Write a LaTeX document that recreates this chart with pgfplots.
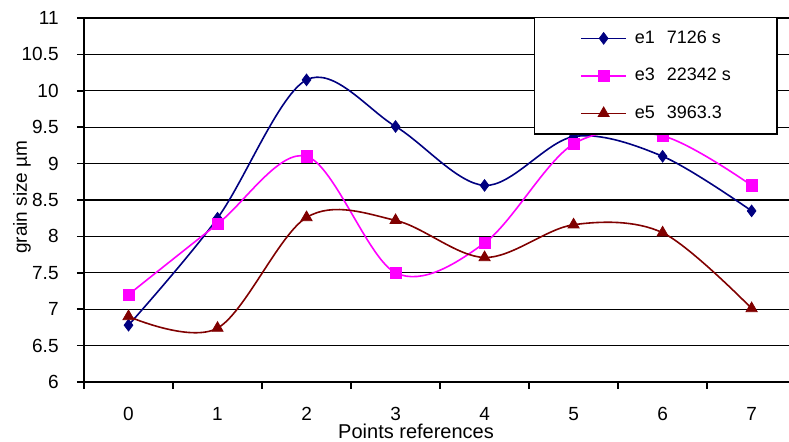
\documentclass[border=0pt]{standalone}
\usepackage{fontspec}
\setmainfont{Liberation Sans}
\usepackage{pgfplots}
\pgfplotsset{compat=1.18}
\definecolor{eone}{RGB}{0,0,128}
\definecolor{ethree}{RGB}{255,0,255}
\definecolor{efive}{RGB}{128,0,0}
\begin{document}
\begin{tikzpicture}
\useasboundingbox (-42pt,-30pt) rectangle (352.5pt,191pt);
\begin{axis}[
  at={(0,0)}, anchor=south west,
  scale only axis, width=352.5pt, height=182pt,
  xmin=-0.5, xmax=7.42, ymin=6, ymax=11,
  axis x line*=bottom, axis y line*=left,
  axis line style={-, line width=1pt, black},
  xtick={-0.5,0.5,...,7.5}, xticklabels={},
  extra x ticks={0,1,2,3,4,5,6,7},
  extra x tick labels={0,1,2,3,4,5,6,7},
  extra x tick style={major tick length=0pt},
  ytick={6,6.5,...,11},
  yticklabels={6,6.5,7,7.5,8,8.5,9,9.5,10,10.5,11},
  tick align=outside, major tick length=3.5pt,
  tick style={black, line width=0.8pt},
  ymajorgrids, grid style={black, line width=0.6pt},
  /pgf/number format/assume math mode=true,
  tick label style={font=\fontsize{9.5}{11}\selectfont},
  xticklabel style={anchor=base, inner sep=0pt, yshift=-19.5pt},
  yticklabel style={anchor=east, inner sep=0pt, xshift=-9pt},
  xlabel={Points references},
  xlabel style={at={(axis description cs:0.471,0)}, anchor=center, yshift=-24.5pt, font=\fontsize{10}{12}\selectfont},
  ylabel={grain size µm},
  ylabel style={at={(axis description cs:-0.088,0.508)}, anchor=center, font=\fontsize{9.5}{11}\selectfont},
  legend style={at={(axis description cs:0.984,1.003)}, anchor=north east,
    draw=black, line width=0.7pt, fill=white,
    inner xsep=23pt, inner ysep=1pt,
    font=\fontsize{9}{11}\selectfont,
    nodes={inner sep=0pt, minimum height=18.75pt},
    cells={anchor=west},
    /tikz/every odd column/.append style={column sep=4pt}},
  legend image code/.code={\draw[mark repeat=2, mark phase=2] plot coordinates {(0pt,0pt) (11.25pt,0pt) (22.5pt,0pt)};},
]
\addplot[color=eone, line width=0.8pt, smooth, tension=0.55, mark=diamond*, mark size=2.9pt, mark options={solid, fill=eone, line width=0.4pt}]
  coordinates {(0,6.78) (1,8.25) (2,10.15) (3,9.51) (4,8.70) (5,9.37) (6,9.10) (7,8.35)};
\addlegendentry{e1\hspace{6pt}7126 s}
\addplot[color=ethree, line width=0.8pt, smooth, tension=0.55, mark=square*, mark size=2.8pt, mark options={solid, fill=ethree, line width=0.4pt}]
  coordinates {(0,7.20) (1,8.17) (2,9.10) (3,7.50) (4,7.91) (5,9.27) (6,9.38) (7,8.70)};
\addlegendentry{e3\hspace{6pt}22342 s}
\addplot[color=efive, line width=0.8pt, smooth, tension=0.55, mark=triangle*, mark size=3.2pt, mark options={solid, fill=efive, line width=0.4pt}]
  coordinates {(0,6.90) (1,6.74) (2,8.26) (3,8.22) (4,7.71) (5,8.16) (6,8.05) (7,7.01)};
\addlegendentry{e5\hspace{6pt}3963.3}
\end{axis}
\end{tikzpicture}
\end{document}
